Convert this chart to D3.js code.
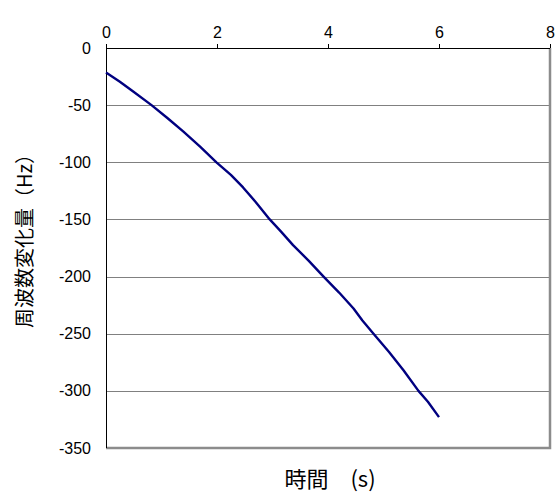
<!DOCTYPE html>
<html>
<head>
<meta charset="utf-8">
<script src="https://cdn.jsdelivr.net/npm/d3@7"></script>
<style>
  html, body { margin: 0; padding: 0; background: #fff; }
  svg { display: block; }
</style>
</head>
<body>
<svg id="chart" width="555" height="493"></svg>
<script>
// Time (s) and frequency change (Hz)
const timeS = [0.00, 0.25, 0.49, 0.82, 1.10, 1.39, 1.70, 1.99, 2.25, 2.47, 2.70, 2.95, 3.15,
               3.37, 3.65, 3.92, 4.20, 4.46, 4.62, 4.82, 5.10, 5.36, 5.63, 5.80, 6.00];
const freqHz = [-21.5, -29.5, -38, -50, -61, -73, -86.5, -100, -111, -122, -135, -150, -160.5,
                -172.5, -186, -200, -214, -228, -238.5, -250, -266, -282, -300, -309.5, -323];

const xTicks = [0, 2, 4, 6, 8];
const yTicks = [0, -50, -100, -150, -200, -250, -300, -350];
const xTitle = "時間\u3000(s)";
const yTitle = "周波数変化量（Hz）";

const svg = d3.select("#chart");
const plotL = 106, plotR = 550, plotT = 48, plotB = 448;

const x = d3.scaleLinear().domain([0, 8]).range([plotL, plotR]);
const y = d3.scaleLinear().domain([0, -350]).range([plotT, plotB]);

const numFont = "'Liberation Sans', Arial, sans-serif";
const cjkFont = "'Noto Sans CJK JP', 'Noto Sans CJK SC', sans-serif";

// horizontal gridlines
svg.append("g")
  .selectAll("line")
  .data(yTicks.filter(v => v !== 0 && v !== -350))
  .join("line")
  .attr("x1", plotL).attr("x2", plotR)
  .attr("y1", d => Math.round(y(d)) + 0.5).attr("y2", d => Math.round(y(d)) + 0.5)
  .attr("stroke", "#808080").attr("stroke-width", 1);

// right and bottom plot-area border
svg.append("path")
  .attr("d", `M${plotR},${plotT} L${plotR},${plotB} L${plotL},${plotB}`)
  .attr("fill", "none").attr("stroke", "#8c8c8c").attr("stroke-width", 2.5);

// top axis with labels above
const xAxis = d3.axisTop(x).tickValues(xTicks).tickSize(4).tickPadding(6)
  .tickFormat(d3.format("d"));
const gx = svg.append("g").attr("transform", `translate(0,${plotT})`).call(xAxis);
gx.select(".domain").attr("stroke", "#000").attr("d", `M${plotL},0.5H${plotR}`);
gx.selectAll(".tick line").attr("stroke", "#000");
gx.selectAll("text").attr("font-family", numFont).attr("font-size", 16).attr("fill", "#000");

// left axis
const yAxis = d3.axisLeft(y).tickValues(yTicks).tickSize(0).tickPadding(15)
  .tickFormat(d => String(d).replace("\u2212", "-"));
const gy = svg.append("g").attr("transform", `translate(${plotL},0)`).call(yAxis);
gy.select(".domain").attr("stroke", "#000").attr("d", `M0.5,${plotT}V${plotB}`);
gy.selectAll("text").attr("font-family", numFont).attr("font-size", 16).attr("fill", "#000");

// data line
const line = d3.line().x((d, i) => x(timeS[i])).y(d => y(d));
svg.append("path")
  .datum(freqHz)
  .attr("d", line)
  .attr("fill", "none")
  .attr("stroke", "#000080")
  .attr("stroke-width", 2.4)
  .attr("stroke-linejoin", "round");

// axis titles
svg.append("text")
  .attr("x", 330).attr("y", 487)
  .attr("text-anchor", "middle")
  .attr("font-family", cjkFont).attr("font-size", 22)
  .text(xTitle);

svg.append("text")
  .attr("transform", "translate(32,236) rotate(-90)")
  .attr("text-anchor", "middle")
  .attr("font-family", cjkFont).attr("font-size", 20)
  .text(yTitle);
</script>
</body>
</html>
